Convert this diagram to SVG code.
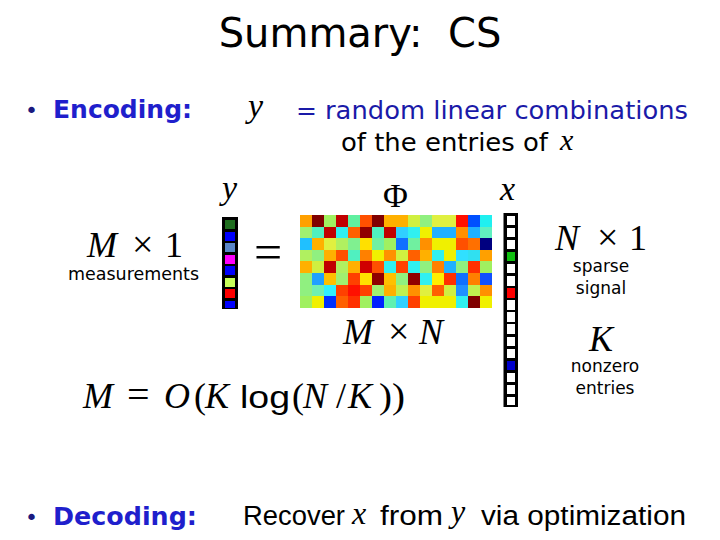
<svg xmlns="http://www.w3.org/2000/svg" width="720" height="540" viewBox="0 0 720 540">
<style>
.t{font-family:"DejaVu Sans",Verdana,sans-serif}
.h{font-family:"DejaVu Sans",Verdana,sans-serif;font-weight:bold;fill:#1f1fcc}
.b{font-family:"DejaVu Sans",sans-serif;fill:#1a1a80}
.m{font-family:"Liberation Serif","Times New Roman",serif;font-style:italic;fill:#000}
.r{font-family:"Liberation Serif","Times New Roman",serif;fill:#000}
.a{font-family:"Liberation Sans",Arial,sans-serif;fill:#000}
.c rect{shape-rendering:crispEdges}
</style>
<rect width="720" height="540" fill="#fff"/>
<g id="title"><text class="t" x="360" y="47" font-size="40" text-anchor="middle" xml:space="preserve">Summary:  CS</text></g>
<g id="encoding">
<text class="b" x="25" y="118" font-size="22">•</text>
<text class="h" x="53" y="118" font-size="25">Encoding:</text>
<text class="m" x="248" y="117" font-size="34">y</text>
<text class="t" x="296" y="119" font-size="25" fill="#1a1aa8">=</text>
<text class="t" x="325" y="119" font-size="25" fill="#1a1aa8" textLength="363" lengthAdjust="spacingAndGlyphs">random linear combinations</text>
<text class="t" x="341" y="151" font-size="25" textLength="207" lengthAdjust="spacingAndGlyphs">of the entries of</text>
<text class="m" x="560" y="150" font-size="30">x</text>
</g>
<g id="y-vector">
<text class="m" x="222" y="199" font-size="34">y</text>
<rect x="222" y="217" width="16" height="92" fill="#000"/>
<g class="c">
<rect x="225" y="220" width="10" height="9" fill="#1f6e1f"/>
<rect x="225" y="231.5" width="10" height="9" fill="#0000ff"/>
<rect x="225" y="243" width="10" height="9" fill="#5a86c8"/>
<rect x="225" y="254.5" width="10" height="9" fill="#ff00ff"/>
<rect x="225" y="266" width="10" height="9" fill="#0000ff"/>
<rect x="225" y="277.5" width="10" height="9" fill="#c8ff5a"/>
<rect x="225" y="289" width="10" height="9" fill="#ff0000"/>
<rect x="225" y="300.5" width="10" height="7" fill="#0000ff"/>
</g>
<text class="m" x="87" y="257" font-size="36">M</text>
<text class="r" x="132" y="257" font-size="38">×</text>
<text class="r" x="165" y="257" font-size="36">1</text>
<text class="t" x="68" y="280" font-size="17" textLength="131" lengthAdjust="spacingAndGlyphs">measurements</text>
</g>
<g id="equals"><text class="r" x="254" y="269" font-size="50">=</text></g>
<g id="matrix">
<text class="r" x="383" y="207" font-size="34">Φ</text>
<g class="c">
<rect x="300" y="215" width="12.4" height="12" fill="#ffa000"/><rect x="312" y="215" width="12.4" height="12" fill="#800000"/><rect x="324" y="215" width="12.4" height="12" fill="#a0f060"/><rect x="336" y="215" width="12.4" height="12" fill="#c00000"/><rect x="348" y="215" width="12.4" height="12" fill="#60f0a0"/><rect x="360" y="215" width="12.4" height="12" fill="#ff5000"/><rect x="372" y="215" width="12.4" height="12" fill="#800000"/><rect x="384" y="215" width="12.4" height="12" fill="#ffb000"/><rect x="396" y="215" width="12.4" height="12" fill="#ffb000"/><rect x="408" y="215" width="12.4" height="12" fill="#d0f040"/><rect x="420" y="215" width="12.4" height="12" fill="#90f080"/><rect x="432" y="215" width="12.4" height="12" fill="#e0f040"/><rect x="444" y="215" width="12.4" height="12" fill="#e0f040"/><rect x="456" y="215" width="12.4" height="12" fill="#ff1000"/><rect x="468" y="215" width="12.4" height="12" fill="#0050ff"/><rect x="480" y="215" width="12" height="12" fill="#20f0f0"/>
<rect x="300" y="226.6" width="12.4" height="12" fill="#a0f070"/><rect x="312" y="226.6" width="12.4" height="12" fill="#50f0c0"/><rect x="324" y="226.6" width="12.4" height="12" fill="#c00000"/><rect x="336" y="226.6" width="12.4" height="12" fill="#30f0f0"/><rect x="348" y="226.6" width="12.4" height="12" fill="#ff6000"/><rect x="360" y="226.6" width="12.4" height="12" fill="#900000"/><rect x="372" y="226.6" width="12.4" height="12" fill="#50f0c0"/><rect x="384" y="226.6" width="12.4" height="12" fill="#c00000"/><rect x="396" y="226.6" width="12.4" height="12" fill="#30d0ff"/><rect x="408" y="226.6" width="12.4" height="12" fill="#30f0f0"/><rect x="420" y="226.6" width="12.4" height="12" fill="#f0f000"/><rect x="432" y="226.6" width="12.4" height="12" fill="#20b0ff"/><rect x="444" y="226.6" width="12.4" height="12" fill="#20b0ff"/><rect x="456" y="226.6" width="12.4" height="12" fill="#ff9000"/><rect x="468" y="226.6" width="12.4" height="12" fill="#20b0ff"/><rect x="480" y="226.6" width="12" height="12" fill="#60f0c0"/>
<rect x="300" y="238.2" width="12.4" height="12" fill="#20c0ff"/><rect x="312" y="238.2" width="12.4" height="12" fill="#ffb000"/><rect x="324" y="238.2" width="12.4" height="12" fill="#e0f040"/><rect x="336" y="238.2" width="12.4" height="12" fill="#b0f060"/><rect x="348" y="238.2" width="12.4" height="12" fill="#80f090"/><rect x="360" y="238.2" width="12.4" height="12" fill="#ffe000"/><rect x="372" y="238.2" width="12.4" height="12" fill="#70f0a0"/><rect x="384" y="238.2" width="12.4" height="12" fill="#a0f060"/><rect x="396" y="238.2" width="12.4" height="12" fill="#1070ff"/><rect x="408" y="238.2" width="12.4" height="12" fill="#70f0a0"/><rect x="420" y="238.2" width="12.4" height="12" fill="#ff9000"/><rect x="432" y="238.2" width="12.4" height="12" fill="#f0f000"/><rect x="444" y="238.2" width="12.4" height="12" fill="#f0f000"/><rect x="456" y="238.2" width="12.4" height="12" fill="#ff5000"/><rect x="468" y="238.2" width="12.4" height="12" fill="#ff7000"/><rect x="480" y="238.2" width="12" height="12" fill="#000080"/>
<rect x="300" y="249.8" width="12.4" height="12" fill="#b0f060"/><rect x="312" y="249.8" width="12.4" height="12" fill="#90f080"/><rect x="324" y="249.8" width="12.4" height="12" fill="#ffb000"/><rect x="336" y="249.8" width="12.4" height="12" fill="#ff5000"/><rect x="348" y="249.8" width="12.4" height="12" fill="#50f0c0"/><rect x="360" y="249.8" width="12.4" height="12" fill="#ff8000"/><rect x="372" y="249.8" width="12.4" height="12" fill="#f0f000"/><rect x="384" y="249.8" width="12.4" height="12" fill="#ff9000"/><rect x="396" y="249.8" width="12.4" height="12" fill="#d0f040"/><rect x="408" y="249.8" width="12.4" height="12" fill="#ff6000"/><rect x="420" y="249.8" width="12.4" height="12" fill="#ffb000"/><rect x="432" y="249.8" width="12.4" height="12" fill="#30f0f0"/><rect x="444" y="249.8" width="12.4" height="12" fill="#f0f000"/><rect x="456" y="249.8" width="12.4" height="12" fill="#30e0ff"/><rect x="468" y="249.8" width="12.4" height="12" fill="#30e0f0"/><rect x="480" y="249.8" width="12" height="12" fill="#ffa000"/>
<rect x="300" y="261.4" width="12.4" height="12" fill="#ffb000"/><rect x="312" y="261.4" width="12.4" height="12" fill="#d0f040"/><rect x="324" y="261.4" width="12.4" height="12" fill="#c00000"/><rect x="336" y="261.4" width="12.4" height="12" fill="#b0f060"/><rect x="348" y="261.4" width="12.4" height="12" fill="#ffb000"/><rect x="360" y="261.4" width="12.4" height="12" fill="#d00000"/><rect x="372" y="261.4" width="12.4" height="12" fill="#ff5000"/><rect x="384" y="261.4" width="12.4" height="12" fill="#30f0f0"/><rect x="396" y="261.4" width="12.4" height="12" fill="#ff4000"/><rect x="408" y="261.4" width="12.4" height="12" fill="#30f0f0"/><rect x="420" y="261.4" width="12.4" height="12" fill="#90f080"/><rect x="432" y="261.4" width="12.4" height="12" fill="#ff8000"/><rect x="444" y="261.4" width="12.4" height="12" fill="#20b0ff"/><rect x="456" y="261.4" width="12.4" height="12" fill="#90f080"/><rect x="468" y="261.4" width="12.4" height="12" fill="#ff3000"/><rect x="480" y="261.4" width="12" height="12" fill="#a0f060"/>
<rect x="300" y="273" width="12.4" height="12" fill="#90f080"/><rect x="312" y="273" width="12.4" height="12" fill="#20a0ff"/><rect x="324" y="273" width="12.4" height="12" fill="#ffc000"/><rect x="336" y="273" width="12.4" height="12" fill="#a0f070"/><rect x="348" y="273" width="12.4" height="12" fill="#ff4000"/><rect x="360" y="273" width="12.4" height="12" fill="#ffe000"/><rect x="372" y="273" width="12.4" height="12" fill="#900000"/><rect x="384" y="273" width="12.4" height="12" fill="#ffc000"/><rect x="396" y="273" width="12.4" height="12" fill="#90f080"/><rect x="408" y="273" width="12.4" height="12" fill="#900000"/><rect x="420" y="273" width="12.4" height="12" fill="#30f0f0"/><rect x="432" y="273" width="12.4" height="12" fill="#ffee00"/><rect x="444" y="273" width="12.4" height="12" fill="#ff3000"/><rect x="456" y="273" width="12.4" height="12" fill="#1070ff"/><rect x="468" y="273" width="12.4" height="12" fill="#ff8000"/><rect x="480" y="273" width="12" height="12" fill="#1050ff"/>
<rect x="300" y="284.6" width="12.4" height="12" fill="#90f080"/><rect x="312" y="284.6" width="12.4" height="12" fill="#70f0b0"/><rect x="324" y="284.6" width="12.4" height="12" fill="#30f0ff"/><rect x="336" y="284.6" width="12.4" height="12" fill="#ff4000"/><rect x="348" y="284.6" width="12.4" height="12" fill="#ff1000"/><rect x="360" y="284.6" width="12.4" height="12" fill="#ff4000"/><rect x="372" y="284.6" width="12.4" height="12" fill="#a0f070"/><rect x="384" y="284.6" width="12.4" height="12" fill="#ffb000"/><rect x="396" y="284.6" width="12.4" height="12" fill="#c0f050"/><rect x="408" y="284.6" width="12.4" height="12" fill="#ff9000"/><rect x="420" y="284.6" width="12.4" height="12" fill="#e0f040"/><rect x="432" y="284.6" width="12.4" height="12" fill="#ff6000"/><rect x="444" y="284.6" width="12.4" height="12" fill="#d0f040"/><rect x="456" y="284.6" width="12.4" height="12" fill="#2090ff"/><rect x="468" y="284.6" width="12.4" height="12" fill="#c0f050"/><rect x="480" y="284.6" width="12" height="12" fill="#ff9000"/>
<rect x="300" y="296.2" width="12.4" height="11.8" fill="#a0f060"/><rect x="312" y="296.2" width="12.4" height="11.8" fill="#f0f000"/><rect x="324" y="296.2" width="12.4" height="11.8" fill="#0030ff"/><rect x="336" y="296.2" width="12.4" height="11.8" fill="#ff6000"/><rect x="348" y="296.2" width="12.4" height="11.8" fill="#ff3000"/><rect x="360" y="296.2" width="12.4" height="11.8" fill="#a0f060"/><rect x="372" y="296.2" width="12.4" height="11.8" fill="#0020ff"/><rect x="384" y="296.2" width="12.4" height="11.8" fill="#60f0b0"/><rect x="396" y="296.2" width="12.4" height="11.8" fill="#30d0ff"/><rect x="408" y="296.2" width="12.4" height="11.8" fill="#ff4000"/><rect x="420" y="296.2" width="12.4" height="11.8" fill="#f0f000"/><rect x="432" y="296.2" width="12.4" height="11.8" fill="#f0f000"/><rect x="444" y="296.2" width="12.4" height="11.8" fill="#f0f000"/><rect x="456" y="296.2" width="12.4" height="11.8" fill="#30f0f0"/><rect x="468" y="296.2" width="12.4" height="11.8" fill="#800000"/><rect x="480" y="296.2" width="12" height="11.8" fill="#f0f000"/>
</g>
<text class="m" x="343" y="344" font-size="36">M</text>
<text class="r" x="388" y="344" font-size="38">×</text>
<text class="m" x="419" y="344" font-size="36">N</text>
</g>
<g id="x-vector">
<text class="m" x="500" y="200" font-size="34">x</text>
<rect x="503.5" y="213" width="14.5" height="194" fill="#000"/>
<g class="c" fill="#fff">
<rect x="506.5" y="215.5" width="8.5" height="9.5"/>
<rect x="506.5" y="227.6" width="8.5" height="9.5"/>
<rect x="506.5" y="239.7" width="8.5" height="9.5"/>
<rect x="506.5" y="251.8" width="8.5" height="9.5" fill="#10c010"/>
<rect x="506.5" y="263.9" width="8.5" height="9.5"/>
<rect x="506.5" y="276" width="8.5" height="9.5"/>
<rect x="506.5" y="288.1" width="8.5" height="9.5" fill="#ff0000"/>
<rect x="506.5" y="300.2" width="8.5" height="9.5"/>
<rect x="506.5" y="312.3" width="8.5" height="9.5"/>
<rect x="506.5" y="324.4" width="8.5" height="9.5"/>
<rect x="506.5" y="336.5" width="8.5" height="9.5"/>
<rect x="506.5" y="348.6" width="8.5" height="9.5"/>
<rect x="506.5" y="360.7" width="8.5" height="9.5" fill="#0000cc"/>
<rect x="506.5" y="372.8" width="8.5" height="9.5"/>
<rect x="506.5" y="384.9" width="8.5" height="9.5"/>
<rect x="506.5" y="397" width="8.5" height="8"/>
</g>
<text class="m" x="555" y="250" font-size="36">N</text>
<text class="r" x="597" y="250" font-size="38">×</text>
<text class="r" x="629" y="250" font-size="36">1</text>
<text class="t" x="601" y="272" font-size="17" text-anchor="middle">sparse</text>
<text class="t" x="601" y="294" font-size="17" text-anchor="middle">signal</text>
<text class="m" x="589" y="351" font-size="36">K</text>
<text class="t" x="605" y="372" font-size="17" text-anchor="middle">nonzero</text>
<text class="t" x="605" y="394" font-size="17" text-anchor="middle">entries</text>
</g>
<g id="bound">
<text class="m" x="83" y="408" font-size="36">M</text>
<text class="r" x="127" y="408" font-size="40">=</text>
<text class="m" x="164" y="408" font-size="36">O</text>
<text class="r" x="194" y="408" font-size="36">(</text>
<text class="m" x="205" y="408" font-size="36">K</text>
<text class="a" x="240" y="408" font-size="32" textLength="50" lengthAdjust="spacingAndGlyphs">log</text>
<text class="r" x="292" y="408" font-size="36">(</text>
<text class="m" x="303" y="408" font-size="36">N</text>
<text class="r" x="336" y="408" font-size="36">/</text>
<text class="m" x="348" y="408" font-size="36">K</text>
<text class="r" x="379" y="408" font-size="36" textLength="26" lengthAdjust="spacingAndGlyphs">))</text>
</g>
<g id="decoding">
<text class="b" x="25" y="525" font-size="22">•</text>
<text class="h" x="53" y="525" font-size="25" textLength="144" lengthAdjust="spacingAndGlyphs">Decoding:</text>
<text class="a" x="243" y="525" font-size="27" textLength="102" lengthAdjust="spacingAndGlyphs">Recover</text>
<text class="m" x="352" y="524" font-size="32">x</text>
<text class="a" x="380" y="525" font-size="27" textLength="63" lengthAdjust="spacingAndGlyphs">from</text>
<text class="m" x="451" y="522" font-size="32">y</text>
<text class="a" x="481" y="525" font-size="27" textLength="205" lengthAdjust="spacingAndGlyphs">via optimization</text>
</g>
</svg>
